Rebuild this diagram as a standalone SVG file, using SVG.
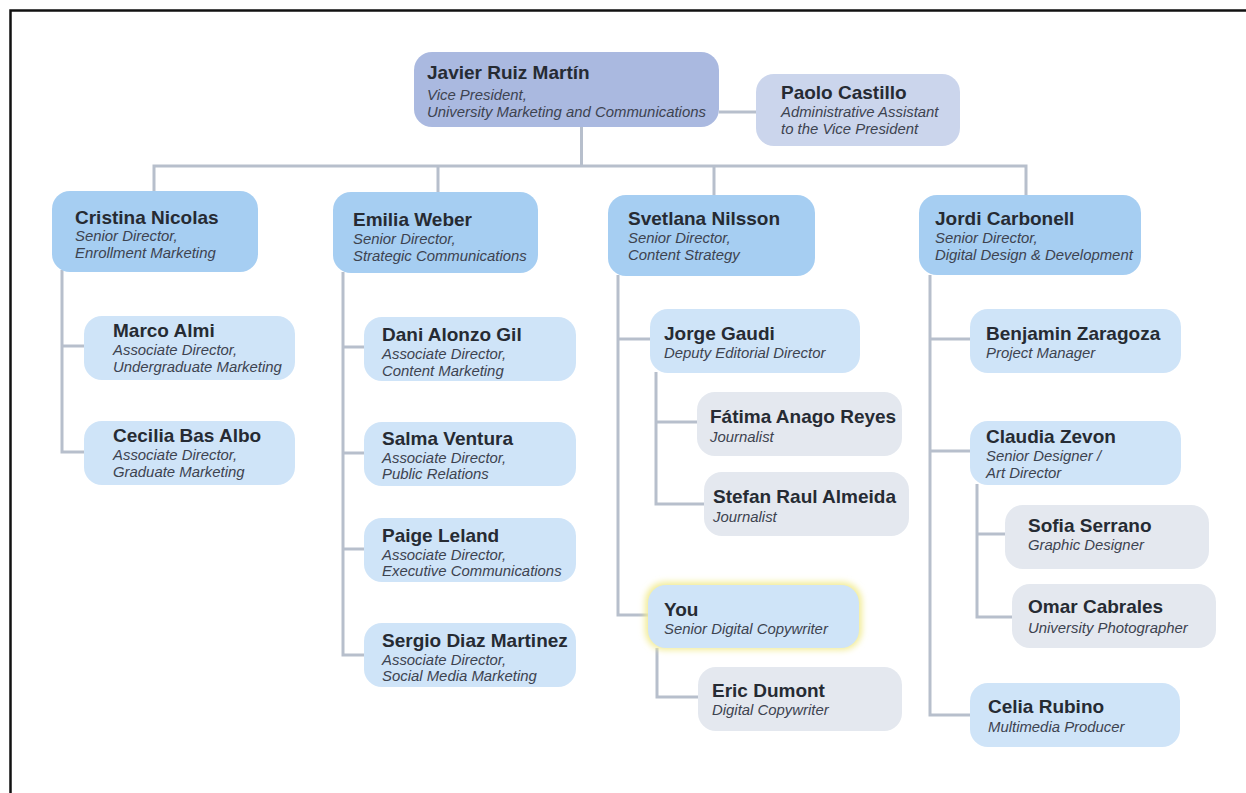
<svg xmlns="http://www.w3.org/2000/svg" width="1246" height="793" viewBox="0 0 1246 793">
<defs>
<style>
.n{font-family:"Liberation Sans",Arial,sans-serif;font-weight:bold;font-size:19px;fill:#262b33}
.s{font-family:"Liberation Sans",Arial,sans-serif;font-style:italic;font-size:14.9px;fill:#3d4350}
.vp{fill:#aab9e0}
.as{fill:#cbd5ec}
.l1{fill:#a6cef2}
.l2{fill:#cfe4f8}
.gr{fill:#e4e8ef}
.c{fill:none;stroke:#b7bfcc;stroke-width:3;stroke-linejoin:miter;stroke-linecap:butt}
</style>
<filter id="glow" x="-20%" y="-30%" width="140%" height="160%">
<feGaussianBlur stdDeviation="3"/>
</filter>
</defs>
<rect x="0" y="0" width="1246" height="793" fill="#ffffff"/>
<path d="M10.5,793 V10.5 H1246" fill="none" stroke="#111111" stroke-width="2.5"/>

<g id="connectors">
<path class="c" d="M719,112 H756"/>
<path class="c" d="M581.5,127 V166"/>
<path class="c" d="M154,191 V166 H1026 V195"/>
<path class="c" d="M438,166 V192"/>
<path class="c" d="M714,166 V195"/>
<path class="c" d="M62,270 V452 H84"/>
<path class="c" d="M62,346 H84"/>
<path class="c" d="M343,272 V655 H364"/>
<path class="c" d="M343,347 H364"/>
<path class="c" d="M343,453 H364"/>
<path class="c" d="M343,549 H364"/>
<path class="c" d="M618,275 V615 H648"/>
<path class="c" d="M618,339 H650"/>
<path class="c" d="M656,372 V504 H704"/>
<path class="c" d="M656,422 H697"/>
<path class="c" d="M657,648 V697 H698"/>
<path class="c" d="M930,275 V715 H970"/>
<path class="c" d="M930,339 H970"/>
<path class="c" d="M930,451 H970"/>
<path class="c" d="M977,484 V617 H1012"/>
<path class="c" d="M977,534 H1005"/>
</g>

<g id="javier">
<rect class="vp" x="414" y="52" width="305" height="75" rx="18"/>
<text class="n" x="427" y="79">Javier Ruiz Martín</text>
<text class="s" x="427" y="100">Vice President,</text>
<text class="s" x="427" y="117">University Marketing and Communications</text>
</g>
<g id="paolo">
<rect class="as" x="756" y="74" width="204" height="72" rx="18"/>
<text class="n" x="781" y="99">Paolo Castillo</text>
<text class="s" x="781" y="117">Administrative Assistant</text>
<text class="s" x="781" y="134">to the Vice President</text>
</g>

<g id="cristina">
<rect class="l1" x="52" y="191" width="206" height="81" rx="18"/>
<text class="n" x="75" y="224">Cristina Nicolas</text>
<text class="s" x="75" y="241">Senior Director,</text>
<text class="s" x="75" y="258">Enrollment Marketing</text>
</g>
<g id="emilia">
<rect class="l1" x="333" y="192" width="205" height="81" rx="18"/>
<text class="n" x="353" y="226">Emilia Weber</text>
<text class="s" x="353" y="244">Senior Director,</text>
<text class="s" x="353" y="261">Strategic Communications</text>
</g>
<g id="svetlana">
<rect class="l1" x="608" y="195" width="207" height="81" rx="18"/>
<text class="n" x="628" y="225">Svetlana Nilsson</text>
<text class="s" x="628" y="243">Senior Director,</text>
<text class="s" x="628" y="260">Content Strategy</text>
</g>
<g id="jordi">
<rect class="l1" x="919" y="195" width="222" height="80" rx="18"/>
<text class="n" x="935" y="225">Jordi Carbonell</text>
<text class="s" x="935" y="243">Senior Director,</text>
<text class="s" x="935" y="260">Digital Design &amp; Development</text>
</g>

<g id="marco">
<rect class="l2" x="84" y="316" width="211" height="64" rx="18"/>
<text class="n" x="113" y="337">Marco Almi</text>
<text class="s" x="113" y="355">Associate Director,</text>
<text class="s" x="113" y="372">Undergraduate Marketing</text>
</g>
<g id="cecilia">
<rect class="l2" x="84" y="421" width="211" height="64" rx="18"/>
<text class="n" x="113" y="442">Cecilia Bas Albo</text>
<text class="s" x="113" y="460">Associate Director,</text>
<text class="s" x="113" y="477">Graduate Marketing</text>
</g>

<g id="dani">
<rect class="l2" x="364" y="317" width="212" height="64" rx="18"/>
<text class="n" x="382" y="341">Dani Alonzo Gil</text>
<text class="s" x="382" y="359">Associate Director,</text>
<text class="s" x="382" y="376">Content Marketing</text>
</g>
<g id="salma">
<rect class="l2" x="364" y="422" width="212" height="64" rx="18"/>
<text class="n" x="382" y="445">Salma Ventura</text>
<text class="s" x="382" y="463">Associate Director,</text>
<text class="s" x="382" y="479">Public Relations</text>
</g>
<g id="paige">
<rect class="l2" x="364" y="518" width="212" height="64" rx="18"/>
<text class="n" x="382" y="542">Paige Leland</text>
<text class="s" x="382" y="560">Associate Director,</text>
<text class="s" x="382" y="576">Executive Communications</text>
</g>
<g id="sergio">
<rect class="l2" x="364" y="623" width="212" height="64" rx="18"/>
<text class="n" x="382" y="647">Sergio Diaz Martinez</text>
<text class="s" x="382" y="665">Associate Director,</text>
<text class="s" x="382" y="681">Social Media Marketing</text>
</g>

<g id="jorge">
<rect class="l2" x="650" y="309" width="210" height="64" rx="18"/>
<text class="n" x="664" y="340">Jorge Gaudi</text>
<text class="s" x="664" y="358">Deputy Editorial Director</text>
</g>
<g id="fatima">
<rect class="gr" x="697" y="392" width="205" height="64" rx="18"/>
<text class="n" x="710" y="423">Fátima Anago Reyes</text>
<text class="s" x="710" y="442">Journalist</text>
</g>
<g id="stefan">
<rect class="gr" x="704" y="472" width="205" height="64" rx="18"/>
<text class="n" x="713" y="503">Stefan Raul Almeida</text>
<text class="s" x="713" y="522">Journalist</text>
</g>
<g id="you">
<rect x="645" y="582" width="217" height="68" rx="20" fill="#f2ec96" filter="url(#glow)"/>
<rect class="l2" x="648" y="585" width="211" height="63" rx="18"/>
<text class="n" x="664" y="616">You</text>
<text class="s" x="664" y="634">Senior Digital Copywriter</text>
</g>
<g id="eric">
<rect class="gr" x="698" y="667" width="204" height="64" rx="18"/>
<text class="n" x="712" y="697">Eric Dumont</text>
<text class="s" x="712" y="715">Digital Copywriter</text>
</g>

<g id="benjamin">
<rect class="l2" x="970" y="309" width="211" height="64" rx="18"/>
<text class="n" x="986" y="340">Benjamin Zaragoza</text>
<text class="s" x="986" y="358">Project Manager</text>
</g>
<g id="claudia">
<rect class="l2" x="970" y="421" width="211" height="64" rx="18"/>
<text class="n" x="986" y="443">Claudia Zevon</text>
<text class="s" x="986" y="461">Senior Designer /</text>
<text class="s" x="986" y="478">Art Director</text>
</g>
<g id="sofia">
<rect class="gr" x="1005" y="505" width="204" height="64" rx="18"/>
<text class="n" x="1028" y="532">Sofia Serrano</text>
<text class="s" x="1028" y="550">Graphic Designer</text>
</g>
<g id="omar">
<rect class="gr" x="1012" y="584" width="204" height="64" rx="18"/>
<text class="n" x="1028" y="613">Omar Cabrales</text>
<text class="s" x="1028" y="633">University Photographer</text>
</g>
<g id="celia">
<rect class="l2" x="970" y="683" width="210" height="64" rx="18"/>
<text class="n" x="988" y="713">Celia Rubino</text>
<text class="s" x="988" y="732">Multimedia Producer</text>
</g>
</svg>
